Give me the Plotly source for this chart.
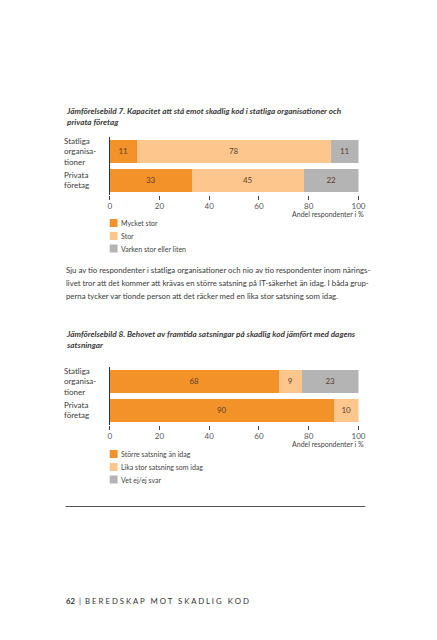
import plotly.graph_objects as go

W, H = 437, 640

# ---------------- data ----------------
categories = ["Privata<br>företag", "Statliga<br>organisa-<br>tioner"]  # bottom -> top

c1_names = ["Mycket stor", "Stor", "Varken stor eller liten"]
c1_values = {
    "Mycket stor": [33, 11],
    "Stor": [45, 78],
    "Varken stor eller liten": [22, 11],
}

c2_names = ["Större satsning än idag", "Lika stor satsning som idag", "Vet ej/ej svar"]
c2_values = {
    "Större satsning än idag": [90, 68],
    "Lika stor satsning som idag": [10, 9],
    "Vet ej/ej svar": [0, 23],
}

x_ticks = [0, 20, 40, 60, 80, 100]

colors = ["#F39229", "#FDC68D", "#B4B4B5"]

title1 = "Jämförelsebild 7. Kapacitet att stå emot skadlig kod i statliga organisationer och<br>privata företag"
title2 = "Jämförelsebild 8. Behovet av framtida satsningar på skadlig kod jämfört med dagens<br>satsningar"
paragraph = [
    "Sju av tio respondenter i statliga organisationer och nio av tio respondenter inom närings-",
    "livet tror att det kommer att krävas en större satsning på IT-säkerhet än idag. I båda grup-",
    "perna tycker var tionde person att det räcker med en lika stor satsning som idag.",
]
x_title = "Andel respondenter i %"
footer = "<b>62</b>  |  B E R E D S K A P   M O T   S K A D L I G   K O D"

FONT = "Lato"
TXT = "#3a3a3a"

def py(px):
    return 1 - px / H

def px_(x):
    return x / W

fig = go.Figure()

ypos = [0, 1]

def add_bars(names, values, xa, ya):
    for name, col in zip(names, colors):
        vals = values[name]
        fig.add_trace(go.Bar(
            x=vals, y=ypos, orientation="h", name=name,
            marker=dict(color=col, line=dict(width=0)),
            width=0.76,
            text=[str(v) if v > 0 else "" for v in vals],
            textposition="inside", insidetextanchor="middle", textangle=0,
            textfont=dict(size=8, color="#5a4030", family=FONT),
            xaxis=xa, yaxis=ya, showlegend=False, hoverinfo="skip",
        ))

add_bars(c1_names, c1_values, "x", "y")
add_bars(c2_names, c2_values, "x2", "y2")

x0, x100 = 110, 364

def xaxis_cfg(anchor):
    return dict(
        domain=[px_(x0), px_(x100)], range=[0, 100], anchor=anchor,
        tickmode="array", tickvals=x_ticks, ticktext=[str(t) for t in x_ticks],
        ticks="outside", ticklen=4, tickwidth=1, tickcolor="#444",
        showline=False, showgrid=False, zeroline=False,
        tickfont=dict(size=8, color="#555", family=FONT),
        fixedrange=True,
    )

def yaxis_cfg(anchor, top_px, bottom_px):
    return dict(
        domain=[py(bottom_px), py(top_px)], range=[-0.5, 1.5], anchor=anchor,
        showticklabels=False, ticks="", showgrid=False, zeroline=False,
        showline=True, linecolor="#333", linewidth=1,
        fixedrange=True,
    )

fig.update_layout(
    xaxis=xaxis_cfg("y"),
    yaxis=yaxis_cfg("x", 136.5, 194.5),
    xaxis2=xaxis_cfg("y2"),
    yaxis2=yaxis_cfg("x2", 366.5, 424.5),
)

annotations = []
shapes = []

# titles
for t, y in [(title1, 116), (title2, 339)]:
    annotations.append(dict(
        text=f"<b><i>{t}</i></b>", x=px_(63), y=py(y), xref="paper", yref="paper",
        xanchor="left", yanchor="middle", align="left", showarrow=False,
        font=dict(size=8.2, color=TXT, family=FONT),
    ))

# category labels
for ya in ["y", "y2"]:
    for cat, yv in zip(categories, ypos):
        annotations.append(dict(
            text=cat, x=px_(61), y=yv, xref="paper", yref=ya,
            xanchor="left", yanchor="middle", align="left", showarrow=False,
            font=dict(size=8, color=TXT, family=FONT),
        ))

# x axis titles
for y in [214, 444]:
    annotations.append(dict(
        text=x_title, x=px_(372), y=py(y), xref="paper", yref="paper",
        xanchor="right", yanchor="middle", showarrow=False,
        font=dict(size=7, color="#444", family=FONT),
    ))

# legends
def legend(names, ys):
    for name, col, y in zip(names, colors, ys):
        shapes.append(dict(
            type="rect", xref="paper", yref="paper",
            x0=px_(110), x1=px_(118), y0=py(y + 4), y1=py(y - 4),
            fillcolor=col, line=dict(width=0),
        ))
        annotations.append(dict(
            text=name, x=px_(119.5), y=py(y), xref="paper", yref="paper",
            xanchor="left", yanchor="middle", showarrow=False,
            font=dict(size=7, color="#444", family=FONT),
        ))

legend(c1_names, [223, 236, 248.5])
legend(c2_names, [454, 467, 479.5])

# paragraph
for line, y in zip(paragraph, [270, 283, 296]):
    annotations.append(dict(
        text=line, x=px_(63), y=py(y), xref="paper", yref="paper",
        xanchor="left", yanchor="middle", showarrow=False,
        font=dict(size=7.8, color=TXT, family=FONT),
    ))

# rule
shapes.append(dict(type="line", xref="paper", yref="paper",
                   x0=px_(65), x1=px_(371), y0=py(506.5), y1=py(506.5),
                   line=dict(color="#555", width=1)))

# footer
annotations.append(dict(
    text=footer, x=px_(63), y=py(601), xref="paper", yref="paper",
    xanchor="left", yanchor="middle", showarrow=False,
    font=dict(size=7.8, color="#333", family=FONT),
))

fig.update_layout(
    width=W, height=H, margin=dict(l=0, r=0, t=0, b=0),
    paper_bgcolor="white", plot_bgcolor="rgba(0,0,0,0)",
    barmode="stack", bargap=0, showlegend=False,
    annotations=annotations, shapes=shapes,
    font=dict(family=FONT),
    uniformtext=dict(minsize=7, mode="show"),
)

fig.write_html("out.html", config={"displayModeBar": False},
               post_script="document.body.style.margin='0';document.body.style.padding='0';")
